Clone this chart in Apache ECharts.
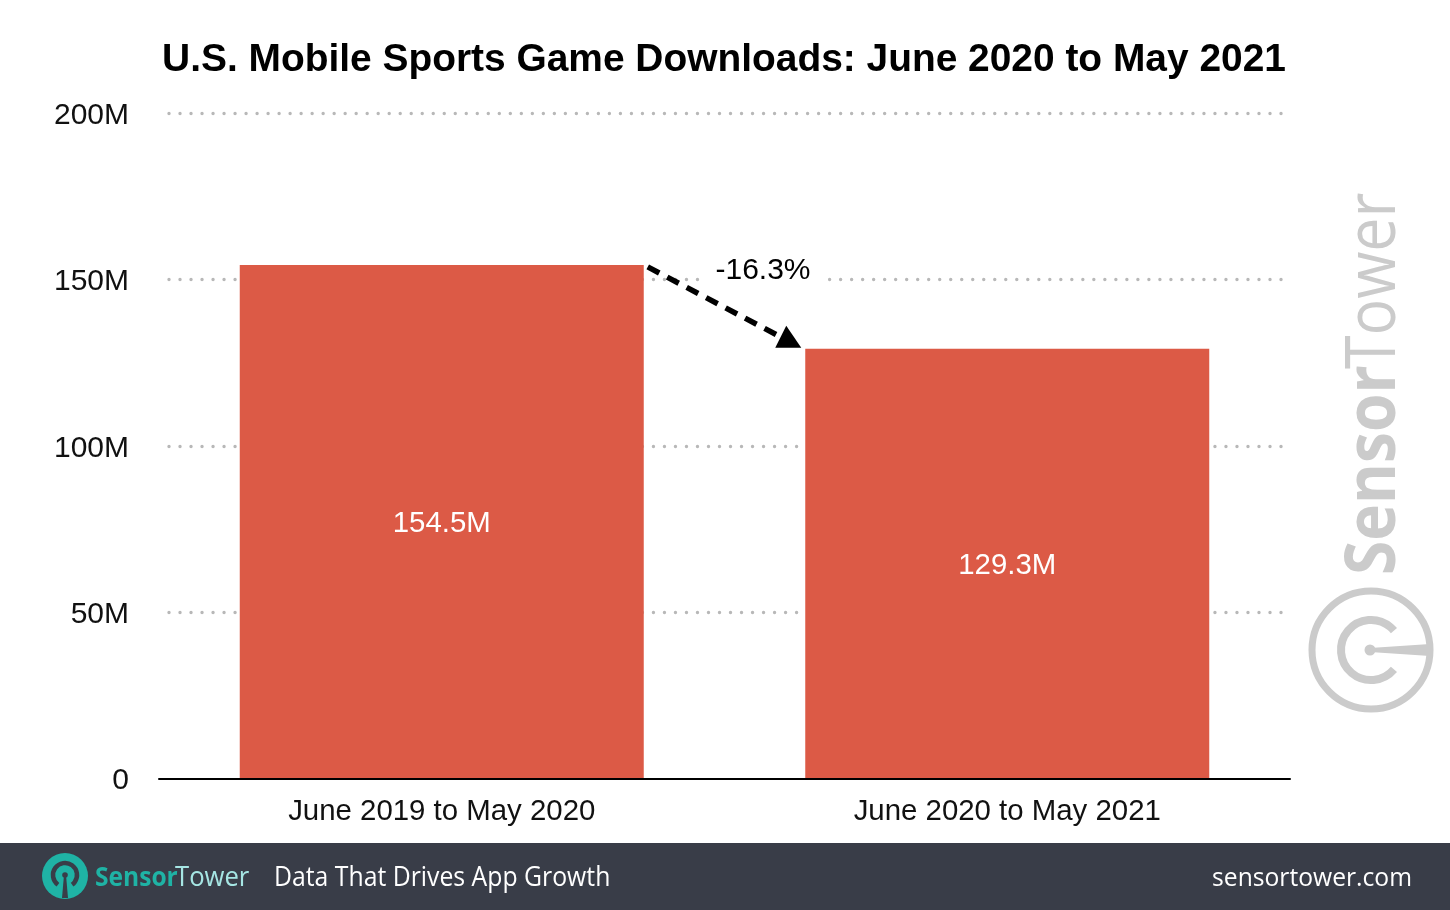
<!DOCTYPE html>
<html>
<head>
<meta charset="utf-8">
<title>U.S. Mobile Sports Game Downloads</title>
<script src="https://cdn.jsdelivr.net/npm/echarts@6/dist/echarts.min.js"></script>
<style>
  html, body { margin: 0; padding: 0; background: #fff; }
  #chart { width: 1450px; height: 910px; }
</style>
</head>
<body>
<div id="chart"></div>
<script>
var categories = ['June 2019 to May 2020', 'June 2020 to May 2021'];
var downloads = [154.5, 129.3];
var tickLabels = ['0', '50M', '100M', '150M', '200M'];
var changeLabel = '-16.3%';

var sans = '"Liberation Sans", Arial, sans-serif';
var brand = '"Open Sans", "Noto Sans", sans-serif';
var grey = '#cbcbcb';

var chart = echarts.init(document.getElementById('chart'));

chart.setOption({
  animation: false,
  backgroundColor: '#fff',
  title: {
    text: 'U.S. Mobile Sports Game Downloads: June 2020 to May 2021',
    left: 719, top: 36, textAlign: 'center',
    textStyle: { fontFamily: sans, fontSize: 38.9, fontWeight: 'bold', color: '#000' }
  },
  grid: [
    // dotted lines sit in their own grid, they are a bit shorter than the axis
    { left: 169, right: 167, top: 113, height: 666 },
    { left: 159, right: 160, top: 113.5, height: 665.5 }
  ],
  xAxis: [
    { type: 'category', gridIndex: 0, data: categories, show: false },
    {
      type: 'category', gridIndex: 1, data: categories, z: 4,
      axisLine: { lineStyle: { color: '#000', width: 2 } },
      axisTick: { show: false },
      axisLabel: { fontFamily: sans, fontSize: 29.4, color: '#111', margin: 18 }
    }
  ],
  yAxis: [
    {
      type: 'value', gridIndex: 0, min: 0, max: 200, interval: 50,
      axisLabel: { show: false }, axisLine: { show: false }, axisTick: { show: false },
      splitLine: {
        showMinLine: false,
        lineStyle: { color: '#b8b8b8', width: 3.4, type: [0.01, 11], cap: 'round' }
      }
    },
    {
      type: 'value', gridIndex: 1, min: 0, max: 200, interval: 50,
      axisLine: { show: false }, axisTick: { show: false }, splitLine: { show: false },
      axisLabel: {
        margin: 30,
        formatter: function (v) { return '{t|' + tickLabels[v / 50] + '}'; },
        rich: { t: { fontFamily: sans, fontSize: 30, color: '#111', padding: [4, 0, 0, 0] } }
      }
    }
  ],
  series: [
    {
      name: 'Downloads', type: 'bar', xAxisIndex: 1, yAxisIndex: 1,
      data: downloads, barWidth: 404, z: 3,
      itemStyle: { color: '#dc5a46' },
      label: {
        show: true, position: 'inside', offset: [0, 2], fontFamily: sans, fontSize: 29.4, color: '#fff',
        formatter: function (p) { return p.value + 'M'; }
      }
    }
  ]
});

// arrow starts and ends from where the bars really are
var from = chart.convertToPixel({ xAxisIndex: 1, yAxisIndex: 1 }, [0, downloads[0]]);
var to = chart.convertToPixel({ xAxisIndex: 1, yAxisIndex: 1 }, [1, downloads[1]]);
var ax = from[0] + 206, ay = from[1] + 2;
var bx = to[0] - 225, by = to[1] - 11;
var hx = to[0] - 206, hy = to[1] - 1;

chart.setOption({
  graphic: [
    // change label, white box hides the 150M dots behind it
    { type: 'rect', z: 4, shape: { x: 702, y: 262, width: 124, height: 36 }, style: { fill: '#fff' } },
    { type: 'line', z: 5, shape: { x1: ax, y1: ay, x2: bx, y2: by }, style: { stroke: '#000', lineWidth: 5.5, lineDash: [13, 9] } },
    { type: 'polygon', z: 5, shape: { points: [[hx - 15, hy - 22], [hx - 26, hy], [hx, hy]] }, style: { fill: '#000' } },
    { type: 'text', z: 6, x: 763, y: 271, style: { text: changeLabel, font: '30px ' + sans, fill: '#000', textAlign: 'center', textVerticalAlign: 'middle' } },

    // watermark on the right
    { type: 'text', z: 1, x: 1375, y: 575, rotation: Math.PI / 2, scaleX: 0.89, style: { text: 'Sensor', font: 'bold 70px ' + brand, fill: grey, textVerticalAlign: 'middle' } },
    { type: 'text', z: 1, x: 1375, y: 369, rotation: Math.PI / 2, scaleX: 0.87, style: { text: 'Tower', font: '70px ' + brand, fill: grey, textVerticalAlign: 'middle' } },
    { type: 'circle', z: 1, shape: { cx: 1371, cy: 650, r: 59 }, style: { fill: 'none', stroke: grey, lineWidth: 7 } },
    { type: 'arc', z: 1, shape: { cx: 1371, cy: 650, r: 30, startAngle: 0.7, endAngle: -0.7, clockwise: true }, style: { fill: 'none', stroke: grey, lineWidth: 8 } },
    { type: 'circle', z: 1, shape: { cx: 1370, cy: 650, r: 5.5 }, style: { fill: grey } },
    { type: 'polygon', z: 1, shape: { points: [[1370, 648], [1430, 644], [1430, 656], [1370, 652]] }, style: { fill: grey } },

    // footer band
    { type: 'rect', z: 7, shape: { x: 0, y: 843, width: 1450, height: 67 }, style: { fill: '#393d48' } },
    { type: 'circle', z: 8, shape: { cx: 65, cy: 876, r: 23 }, style: { fill: '#1fb3a5' } },
    { type: 'arc', z: 9, shape: { cx: 65, cy: 875, r: 12, startAngle: 2.2, endAngle: 0.94, clockwise: true }, style: { fill: 'none', stroke: '#393d48', lineWidth: 4.5 } },
    { type: 'circle', z: 9, shape: { cx: 65, cy: 875, r: 2.8 }, style: { fill: '#393d48' } },
    { type: 'polygon', z: 9, shape: { points: [[64, 875], [66, 875], [68, 898], [62, 898]] }, style: { fill: '#393d48' } },
    { type: 'text', z: 8, x: 95, y: 878, scaleX: 0.91, style: { text: 'Sensor', font: 'bold 27px ' + brand, fill: '#1fb3a5', textVerticalAlign: 'middle' } },
    { type: 'text', z: 8, x: 175, y: 878, scaleX: 0.95, style: { text: 'Tower', font: '27px ' + brand, fill: '#a6e6e4', textVerticalAlign: 'middle' } },
    { type: 'text', z: 8, x: 274, y: 878, scaleX: 0.918, style: { text: 'Data That Drives App Growth', font: '27px ' + brand, fill: '#fff', textVerticalAlign: 'middle' } },
    { type: 'text', z: 8, x: 1412, y: 879, scaleX: 0.948, style: { text: 'sensortower.com', font: '26px ' + brand, fill: '#fff', textAlign: 'right', textVerticalAlign: 'middle' } }
  ]
});
</script>
</body>
</html>
